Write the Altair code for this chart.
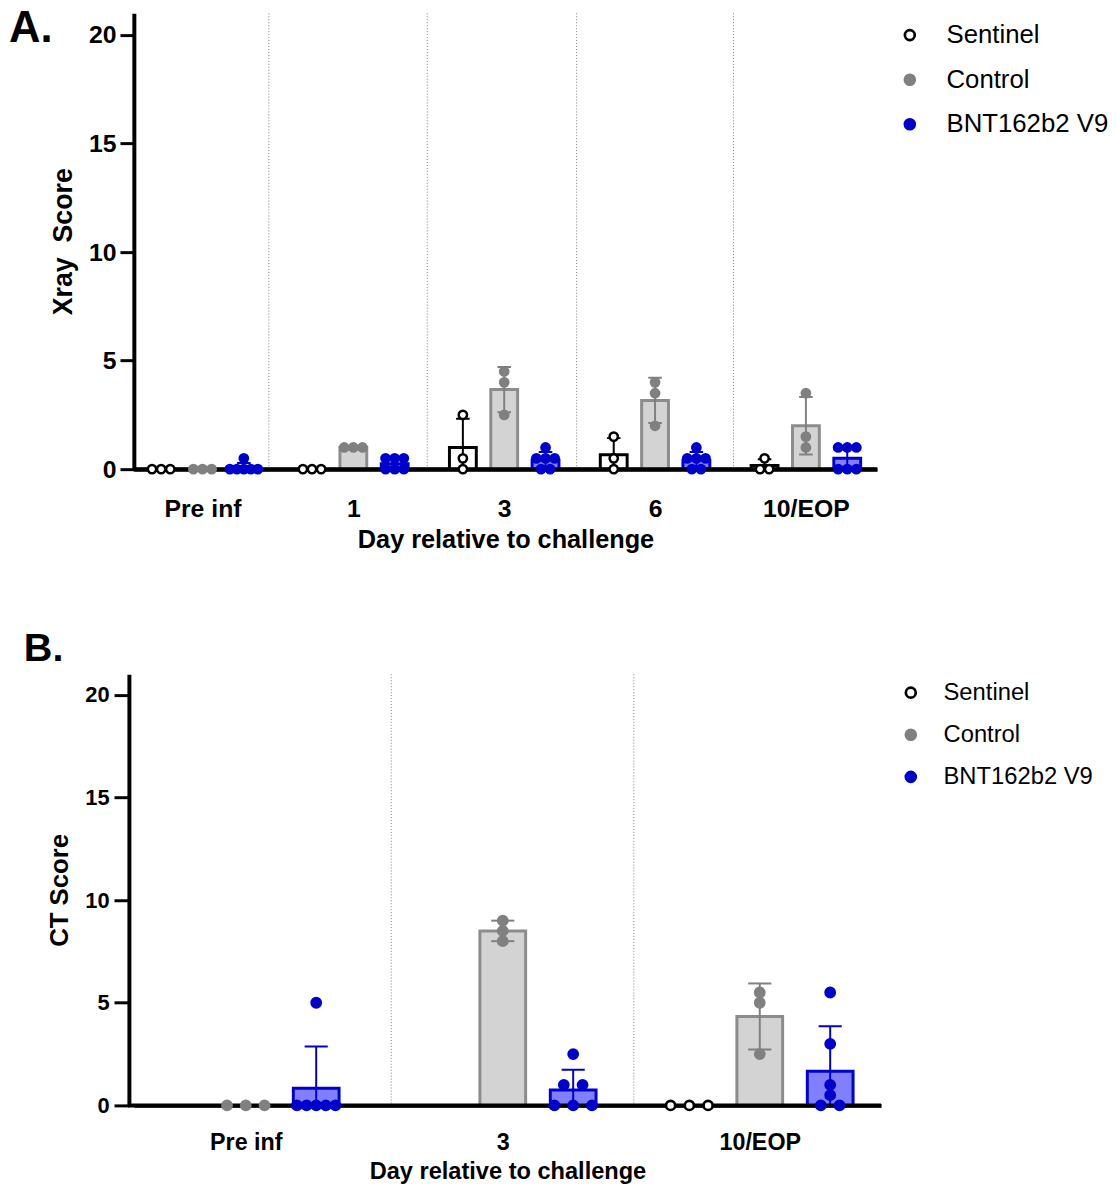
import altair as alt
import pandas as pd
import numpy as np

SERIES = ["Sentinel", "Control", "BNT162b2 V9"]

# ---- Panel A: Xray score ----
A_DAYS = ["Pre inf", "1", "3", "6", "10/EOP"]
A_SENTINEL = [[0, 0, 0], [0, 0, 0], [0, 0.5, 2.5], [0, 0.5, 1.5], [0, 0, 0.5]]
A_CONTROL = [[0, 0, 0], [1, 1, 1], [2.5, 4, 4.5], [2, 3.5, 4], [1, 1.5, 3.5]]
A_BNT = [[0, 0, 0, 0, 0, 0.5], [0, 0, 0, 0.5, 0.5, 0.5], [0, 0, 0.5, 0.5, 0.5, 1],
         [0, 0, 0.5, 0.5, 0.5, 1], [0, 0, 0, 1, 1, 1]]
A_DIVIDERS = [0.44, 1.49, 2.48, 3.52]

# ---- Panel B: CT score ----
B_DAYS = ["Pre inf", "3", "10/EOP"]
B_SENTINEL = [[], [], [0, 0, 0]]
B_CONTROL = [[0, 0, 0], [8, 8.5, 9], [2.5, 5, 5.5]]
B_BNT = [[0, 0, 0, 0, 0, 5], [0, 0, 0, 1, 1, 2.5], [0, 0, 0.5, 1, 3, 5.5]]
B_DIVIDERS = [0.566, 1.51]

Y_TICKS = [0, 5, 10, 15, 20]

FONT = "Liberation Sans"
POINT_FILL = ["white", "#808080", "#0000cc"]
POINT_STROKE = ["black", "#808080", "#0000cc"]
BAR_FILL = {"Sentinel": "white", "Control": "#d3d3d3", "BNT162b2 V9": "#8080ff"}
BAR_STROKE = {"Sentinel": "black", "Control": "#8c8c8c", "BNT162b2 V9": "#0000cc"}
ERR_COLOR = {"Sentinel": "black", "Control": "#808080", "BNT162b2 V9": "#0000cc"}
SERIES_SHIFT = {"Sentinel": -0.274, "Control": 0.0, "BNT162b2 V9": 0.274}
BAR_HALF = 0.089
CAP_HALF = 0.045


def build_frames(groups, jitter, max_spread):
    pts, summ, caps = [], [], []
    for s, lists in zip(SERIES, groups):
        for d, vals in enumerate(lists):
            if not vals:
                continue
            c = d + SERIES_SHIFT[s]
            arr = np.array(vals, float)
            for v in sorted(set(vals)):
                n = vals.count(v)
                step = jitter if n == 1 else min(jitter, max_spread / (n - 1))
                for i in range(n):
                    pts.append({"series": s, "x": c + (i - (n - 1) / 2) * step, "value": v})
            m = arr.mean()
            sd = arr.std(ddof=1)
            summ.append({"series": s, "x": c, "xl": c - BAR_HALF, "xr": c + BAR_HALF,
                         "mean": m, "lo": m - sd, "hi": m + sd})
            for y in (m - sd, m + sd):
                caps.append({"series": s, "xl": c - CAP_HALF, "xr": c + CAP_HALF, "y": y})
    return pd.DataFrame(pts), pd.DataFrame(summ), pd.DataFrame(caps)


def panel(days, groups, dividers, p):
    pts, summ, caps = build_frames(groups, p["jitter"], p["max_spread"])
    n = len(days)
    xs = alt.Scale(domain=[p["xmin"], n - 1 + 0.472], nice=False, zero=False)
    ys = alt.Scale(domain=[0, 21], nice=False)
    label_arr = "[" + ",".join("'%s'" % d for d in days) + "]"
    x_axis = alt.Axis(values=list(range(n)), labelExpr=label_arr + "[datum.value]",
                      grid=False, ticks=False, tickSize=0, domainColor="black",
                      domainWidth=4, labelFont=FONT, labelFontWeight="bold",
                      labelFontSize=p["xlab"], labelColor="black", labelPadding=p["xlabpad"],
                      labelFlush=False, labelOverlap=False, labelAngle=0,
                      titleFont=FONT, titleFontWeight="bold", titleFontSize=p["xtitle"],
                      titleColor="black", titlePadding=p["xtitlepad"])
    y_axis = alt.Axis(values=Y_TICKS, grid=False, domainColor="black", domainWidth=4,
                      tickColor="black", tickWidth=3, tickSize=p["ticksize"],
                      offset=p["yoffset"],
                      labelFont=FONT, labelFontWeight="bold", labelFontSize=p["ylab"],
                      labelColor="black", labelPadding=p["ylabpad"],
                      titleFont=FONT, titleFontWeight="bold", titleFontSize=p["ytitle"],
                      titleColor="black", titlePadding=p["ytitlepad"])
    xt = "Day relative to challenge"

    def X(f):
        return alt.X(f, type="quantitative", scale=xs, axis=x_axis, title=xt)

    def Y(f):
        return alt.Y(f, type="quantitative", scale=ys, axis=y_axis, title=p["ylabel"])

    layers = []
    layers.append(alt.Chart(pd.DataFrame({"d": dividers})).mark_rule(
        color="#808080", strokeWidth=1, strokeDash=[1, 2]).encode(x=X("d")))
    for s in SERIES:
        sub = summ[summ.series == s]
        if sub.empty:
            continue
        layers.append(alt.Chart(sub).mark_bar(
            fill=BAR_FILL[s], stroke=BAR_STROKE[s], strokeWidth=3).encode(
            x=X("xl"), x2="xr", y=Y("mean"), y2=alt.datum(0)))
    for s in SERIES:
        sub = summ[summ.series == s]
        if sub.empty:
            continue
        layers.append(alt.Chart(sub).mark_rule(
            color=ERR_COLOR[s], strokeWidth=2, clip=True).encode(
            x=X("x"), y=Y("lo"), y2="hi"))
        layers.append(alt.Chart(caps[caps.series == s]).mark_rule(
            color=ERR_COLOR[s], strokeWidth=2, clip=True).encode(
            x=X("xl"), x2="xr", y=Y("y")))
    # zero baseline, reaching back to the (offset) y axis
    layers.append(alt.Chart(pd.DataFrame({"z": [0]})).mark_rule(
        color="black", strokeWidth=4).encode(
        y=Y("z"), x=alt.value(-p["yoffset"] - 1), x2=alt.value(p["w"])))
    leg = alt.Legend(title=None, orient="none", legendX=p["legx"], legendY=p["legy"],
                     labelFont=FONT, labelFontSize=p["legfont"], labelColor="black",
                     labelOffset=p["labeloffset"], rowPadding=p["rowpad"], labelLimit=400,
                     symbolType="circle", symbolSize=100, symbolStrokeWidth=2.7,
                     padding=0)
    layers.append(alt.Chart(pts).mark_point(
        shape="circle", filled=True, opacity=1, size=p["psize"], strokeWidth=p["pstroke"]).encode(
        x=X("x"), y=Y("value"),
        fill=alt.Fill("series:N", scale=alt.Scale(domain=SERIES, range=POINT_FILL), legend=leg),
        stroke=alt.Stroke("series:N", scale=alt.Scale(domain=SERIES, range=POINT_STROKE), legend=leg)))
    layers.append(alt.Chart(pd.DataFrame({"t": [p["tag"]]})).mark_text(
        font=FONT, fontSize=p["tagsize"], fontWeight="bold", align="left",
        baseline="alphabetic", color="black").encode(
        text="t:N", x=alt.value(p["tagx"]), y=alt.value(p["tagy"])))
    return alt.layer(*layers).properties(width=p["w"], height=p["h"])


pa = dict(w=750, h=460, xmin=-0.455, yoffset=0, jitter=0.0605, max_spread=0.185,
          xlab=25, xlabpad=28, xtitle=25.5, xtitlepad=6, ticksize=14, ylab=25, ylabpad=4,
          ytitle=27, ytitlepad=11, ylabel="Xray\u00a0 Score",
          legx=770, legy=9, legfont=26, labeloffset=24, rowpad=19, psize=70, pstroke=2.5,
          tag="A.", tagsize=44, tagx=-126, tagy=29)
pb = dict(w=754, h=435, xmin=-0.4355, yoffset=5, jitter=0.073, max_spread=0.15,
          xlab=23.5, xlabpad=26, xtitle=23.8, xtitlepad=5, ticksize=15, ylab=22, ylabpad=5,
          ytitle=26, ytitlepad=12, ylabel="CT Score",
          legx=772, legy=6.5, legfont=24, labeloffset=21, rowpad=18.5, psize=85, pstroke=2.7,
          tag="B.", tagsize=40, tagx=-111, tagy=-13)

chart_a = panel(A_DAYS, [A_SENTINEL, A_CONTROL, A_BNT], A_DIVIDERS, pa)
chart_b = panel(B_DAYS, [B_SENTINEL, B_CONTROL, B_BNT], B_DIVIDERS, pb)

chart = alt.vconcat(chart_a, chart_b, spacing=77).resolve_scale(
    fill="independent", stroke="independent"
).resolve_legend(fill="independent", stroke="independent").properties(
    padding={"left": 1, "top": -6, "right": 0, "bottom": 0}
).configure_view(stroke=None)

chart.save("out.html", embed_options={"renderer": "svg", "actions": False})
